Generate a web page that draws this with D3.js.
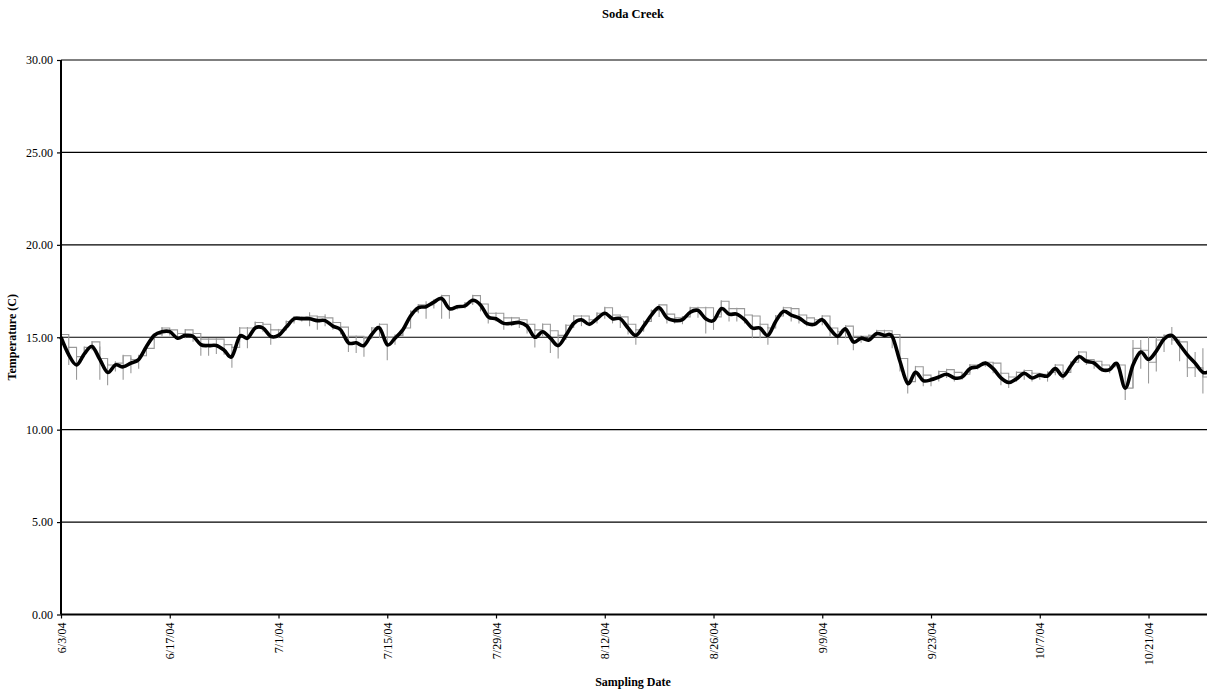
<!DOCTYPE html>
<html>
<head>
<meta charset="utf-8">
<script src="https://cdn.jsdelivr.net/npm/d3@7"></script>
<style>
  html, body { margin: 0; padding: 0; background: #fff; }
  svg { display: block; }
  text { font-family: "Liberation Serif", "Times New Roman", serif; fill: #000; }
</style>
</head>
<body>
<svg id="chart" width="1207" height="691"></svg>
<script>
// ---------- data ----------
const chartTitle = "Soda Creek";
const yAxisTitle = "Temperature (C)";
const xAxisTitle = "Sampling Date";
const startDate = "2004-06-03";
const endDate = "2004-10-29";

const yTicks = [0, 5, 10, 15, 20, 25, 30];
const xTickDates = ["2004-06-03","2004-06-17","2004-07-01","2004-07-15","2004-07-29","2004-08-12",
                    "2004-08-26","2004-09-09","2004-09-23","2004-10-07","2004-10-21"];
const xTickLabels = ["6/3/04","6/17/04","7/1/04","7/15/04","7/29/04","8/12/04",
                     "8/26/04","9/9/04","9/23/04","10/7/04","10/21/04"];

// daily mean temperature (black smoothed line), one value per day from 6/3/04
const dailyMean = [
  15.0, 14.05, 13.5, 14.1, 14.5, 13.8, 13.1, 13.5, 13.4, 13.6,
  13.8, 14.5, 15.1, 15.3, 15.3, 14.95, 15.1, 15.05, 14.6, 14.55,
  14.55, 14.3, 13.95, 15.05, 14.95, 15.5, 15.5, 15.05, 15.1, 15.55,
  16.0, 16.0, 16.0, 15.9, 15.9, 15.6, 15.4, 14.7, 14.7, 14.55,
  15.15, 15.5, 14.6, 14.95, 15.4, 16.15, 16.6, 16.65, 16.9, 17.1,
  16.55, 16.65, 16.7, 17.0, 16.75, 16.1, 16.0, 15.75, 15.75, 15.8,
  15.6, 15.0, 15.3, 14.95, 14.55, 15.1, 15.75, 15.95, 15.7, 16.0,
  16.3, 16.0, 16.0, 15.5, 15.1, 15.6, 16.2, 16.6, 16.05, 15.9,
  15.95, 16.35, 16.45, 16.0, 15.9, 16.55, 16.25, 16.25, 15.95, 15.5,
  15.5, 15.1, 15.85, 16.4, 16.2, 16.05, 15.75, 15.7, 15.95, 15.45,
  15.05, 15.45, 14.75, 14.95, 14.85, 15.2, 15.1, 15.05, 13.7, 12.5,
  13.1, 12.65, 12.7, 12.85, 13.0, 12.8, 12.85, 13.3, 13.4, 13.6,
  13.3, 12.8, 12.55, 12.75, 13.05, 12.8, 12.95, 12.9, 13.3, 12.9,
  13.45, 13.95, 13.7, 13.6, 13.25, 13.25, 13.55, 12.25, 13.5, 14.2,
  13.8, 14.25, 14.9, 15.1, 14.6, 14.05, 13.6, 13.1, 13.2
];

// gray daily level (stepped outline)
const dailyLevel = [
  15.15, 14.45, 13.95, 14.45, 14.75, 13.85, 13.5, 13.6, 14.0, 13.8,
  14.0, 14.4, 15.15, 15.5, 15.4, 15.2, 15.4, 15.2, 14.9, 14.9,
  14.9, 14.6, 14.45, 15.5, 15.5, 15.8, 15.7, 15.4, 15.4, 15.85,
  16.1, 16.1, 16.15, 16.1, 16.05, 15.8, 15.55, 15.05, 15.05, 14.95,
  15.5, 15.7, 15.0, 15.1, 15.5, 16.4, 16.75, 16.75, 17.0, 17.25,
  16.6, 16.7, 16.85, 17.25, 16.8, 16.3, 16.3, 16.05, 16.05, 15.95,
  15.7, 15.4, 15.7, 15.35, 15.1, 15.65, 16.15, 16.15, 15.95, 16.3,
  16.6, 16.2, 16.1, 15.7, 15.4, 15.85, 16.45, 16.75, 16.25, 16.05,
  16.1, 16.6, 16.6, 16.6, 16.1, 16.95, 16.55, 16.55, 16.2, 16.15,
  15.7, 15.5, 16.15, 16.6, 16.55, 16.2, 16.05, 15.95, 16.15, 15.5,
  15.3, 15.6, 15.05, 15.05, 15.1, 15.35, 15.35, 15.15, 13.85, 12.6,
  13.4, 12.95, 12.8, 13.15, 13.25, 13.1, 13.0, 13.5, 13.5, 13.65,
  13.6, 13.05, 12.85, 13.1, 13.2, 13.05, 13.0, 13.1, 13.5, 13.1,
  13.65, 14.2, 13.8, 13.7, 13.5, 13.4, 13.5, 12.25, 14.4, 14.3,
  13.65, 14.85, 15.1, 14.85, 14.75, 13.35, 13.35, 12.85, 12.9
];

// daily maximum (gray whisker top)
const dailyMax = [
  15.2, 14.5, 14.0, 14.5, 14.8, 14.5, 13.6, 13.7, 14.05, 13.9,
  14.05, 14.45, 15.2, 15.55, 15.45, 15.25, 15.45, 15.25, 14.95, 14.95,
  14.95, 14.65, 14.5, 15.55, 15.55, 15.85, 15.75, 15.45, 15.45, 15.9,
  16.15, 16.15, 16.35, 16.15, 16.25, 15.85, 15.6, 15.1, 15.1, 15.0,
  15.55, 15.75, 15.05, 15.15, 15.55, 16.45, 16.8, 16.95, 17.05, 17.3,
  16.65, 16.75, 16.9, 17.3, 16.85, 16.35, 16.35, 16.1, 16.1, 16.0,
  15.75, 15.45, 15.75, 15.4, 15.15, 15.7, 16.2, 16.2, 16.0, 16.35,
  16.65, 16.25, 16.15, 15.75, 15.45, 15.9, 16.5, 16.8, 16.3, 16.1,
  16.15, 16.65, 16.65, 16.65, 16.15, 17.0, 16.6, 16.6, 16.25, 16.2,
  15.75, 15.55, 16.2, 16.65, 16.6, 16.25, 16.1, 16.0, 16.2, 15.55,
  15.35, 15.65, 15.1, 15.1, 15.15, 15.4, 15.4, 15.2, 13.9, 12.65,
  13.45, 13.0, 12.85, 13.2, 13.3, 13.15, 13.05, 13.55, 13.55, 13.7,
  13.65, 13.1, 12.9, 13.15, 13.25, 13.1, 13.05, 13.15, 13.55, 13.15,
  13.7, 14.25, 13.85, 13.75, 13.55, 13.45, 13.55, 12.3, 14.85, 14.85,
  15.0, 15.0, 15.15, 15.55, 14.8, 14.2, 14.2, 14.4, 14.3
];

// daily minimum (gray whisker bottom)
const dailyMin = [
  14.85, 13.5, 12.7, 13.95, 14.3, 12.7, 12.4, 13.15, 12.7, 13.05,
  13.3, 14.15, 14.85, 15.05, 15.1, 14.85, 14.95, 14.75, 14.0, 14.0,
  14.1, 14.05, 13.35, 14.75, 14.4, 15.4, 15.3, 14.6, 14.95, 15.4,
  15.75, 15.85, 15.6, 15.4, 15.6, 15.4, 15.15, 14.2, 14.15, 13.95,
  14.95, 14.95, 13.75, 14.6, 15.05, 15.95, 16.3, 16.0, 16.55, 16.0,
  16.0, 16.5, 16.55, 16.75, 16.4, 15.75, 15.85, 15.4, 15.6, 15.5,
  15.2, 14.45, 15.05, 14.15, 13.85, 14.85, 15.5, 15.6, 15.6, 15.75,
  16.0, 15.75, 15.5, 15.15, 14.6, 15.3, 15.85, 16.1, 15.75, 15.75,
  15.7, 16.2, 16.05, 15.2, 15.4, 16.2, 15.85, 15.85, 15.75, 14.95,
  14.95, 14.6, 15.65, 16.3, 15.85, 15.75, 15.6, 15.6, 15.65, 15.05,
  14.6, 14.95, 14.3, 14.7, 14.75, 15.05, 15.05, 14.4, 13.15, 11.95,
  12.6, 12.35, 12.35, 12.6, 12.8, 12.6, 12.7, 13.05, 13.25, 13.4,
  13.05, 12.4, 12.25, 12.6, 12.7, 12.6, 12.7, 12.6, 12.95, 12.7,
  13.3, 13.7, 13.5, 13.3, 13.15, 13.05, 13.3, 11.6, 12.25, 13.3,
  12.5, 13.15, 14.2, 14.6, 13.7, 12.85, 12.85, 11.95, 12.0
];

// ---------- chart ----------
const W = 1207, H = 691;
const margin = { left: 61, top: 60, bottom: 614.5 };
const parse = d3.utcParse("%Y-%m-%d");
const t0 = parse(startDate);
const dates = dailyMean.map((_, i) => d3.utcDay.offset(t0, i));

const x = d3.scaleUtc()
  .domain([t0, parse(endDate)])
  .range([margin.left, margin.left + 148 * 7.768]);
const y = d3.scaleLinear().domain([0, 30]).range([margin.bottom, margin.top]);

const svg = d3.select("#chart");
const plotRight = W;

// gridlines
svg.append("g")
  .selectAll("line")
  .data(yTicks.filter(v => v > 0))
  .join("line")
  .attr("x1", margin.left).attr("x2", plotRight)
  .attr("y1", d => y(d)).attr("y2", d => y(d))
  .attr("stroke", "#000").attr("stroke-width", 1.2);

// gray step outline
const g = svg.append("g").attr("clip-path", null);
const stepLine = d3.line()
  .x((d, i) => x(dates[i]))
  .y(d => y(d))
  .curve(d3.curveStepAfter);
g.append("path")
  .datum(dailyLevel)
  .attr("d", stepLine)
  .attr("fill", "none")
  .attr("stroke", "#9a9a9a")
  .attr("stroke-width", 1.1);

// gray whiskers
g.append("g")
  .selectAll("line")
  .data(dailyMin)
  .join("line")
  .attr("x1", (d, i) => x(dates[i]))
  .attr("x2", (d, i) => x(dates[i]))
  .attr("y1", (d, i) => y(dailyMax[i]))
  .attr("y2", d => y(d))
  .attr("stroke", "#9a9a9a")
  .attr("stroke-width", 1.1);

// black smoothed mean line
const meanLine = d3.line()
  .x((d, i) => x(dates[i]))
  .y(d => y(d))
  .curve(d3.curveCardinal.tension(0));
svg.append("path")
  .datum(dailyMean)
  .attr("d", meanLine)
  .attr("fill", "none")
  .attr("stroke", "#000")
  .attr("stroke-width", 3.6)
  .attr("stroke-linejoin", "round");

// y axis
const yAxis = d3.axisLeft(y)
  .tickValues(yTicks)
  .tickFormat(d3.format(".2f"))
  .tickSize(4)
  .tickPadding(4);
const yg = svg.append("g")
  .attr("transform", `translate(${margin.left},0)`)
  .call(yAxis);
yg.select(".domain").remove();
yg.selectAll(".tick line").attr("stroke", "#000").attr("stroke-width", 1.2);
yg.selectAll(".tick text")
  .attr("font-family", "'Liberation Serif', 'Times New Roman', serif")
  .attr("font-size", 12)
  .attr("fill", "#000");
svg.append("line")
  .attr("x1", margin.left).attr("x2", margin.left)
  .attr("y1", y(30)).attr("y2", y(0))
  .attr("stroke", "#000").attr("stroke-width", 2);

// x axis
const xAxis = d3.axisBottom(x)
  .tickValues(xTickDates.map(parse))
  .tickFormat((d, i) => xTickLabels[i])
  .tickSize(4)
  .tickPadding(4);
const xg = svg.append("g")
  .attr("transform", `translate(0,${margin.bottom})`)
  .call(xAxis);
xg.select(".domain").remove();
xg.selectAll(".tick line").attr("stroke", "#000").attr("stroke-width", 1.2);
xg.selectAll(".tick text")
  .attr("font-family", "'Liberation Serif', 'Times New Roman', serif")
  .attr("font-size", 12)
  .attr("fill", "#000")
  .attr("transform", "rotate(-90)")
  .attr("text-anchor", "end")
  .attr("x", -8)
  .attr("y", 0)
  .attr("dy", "0.35em");
svg.append("line")
  .attr("x1", margin.left).attr("x2", plotRight)
  .attr("y1", y(0)).attr("y2", y(0))
  .attr("stroke", "#000").attr("stroke-width", 2);

// titles
svg.append("text")
  .attr("x", 633).attr("y", 18)
  .attr("text-anchor", "middle")
  .attr("font-size", 12.5).attr("font-weight", "bold")
  .text(chartTitle);
svg.append("text")
  .attr("transform", `translate(16,${(y(0) + y(30)) / 2}) rotate(-90)`)
  .attr("text-anchor", "middle")
  .attr("font-size", 12).attr("font-weight", "bold")
  .text(yAxisTitle);
svg.append("text")
  .attr("x", 633).attr("y", 686)
  .attr("text-anchor", "middle")
  .attr("font-size", 12).attr("font-weight", "bold")
  .text(xAxisTitle);
</script>
</body>
</html>
